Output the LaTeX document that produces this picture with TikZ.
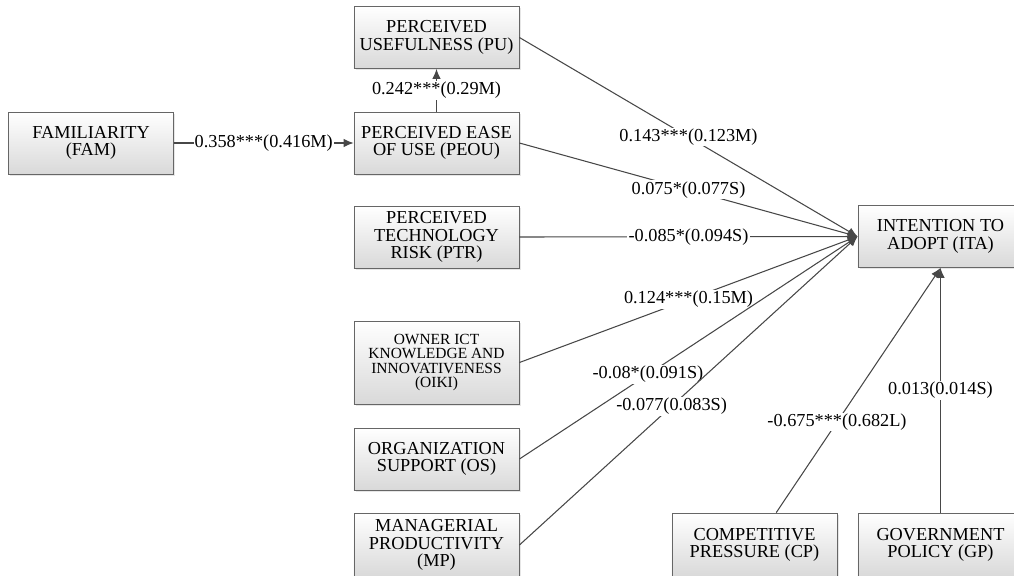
\documentclass[tikz,border=0pt]{standalone}
\usepackage{fontspec}
\setmainfont{Liberation Serif}
\usetikzlibrary{arrows.meta,positioning,shadows}

\begin{document}
\begin{tikzpicture}[x=0.025cm,y=-0.025cm,->,>={Latex[length=7pt,width=6pt]},
                    line width=0.75pt,draw=black!72]
  \tikzstyle{factor}=[draw=black!60, line width=0.6pt, top color=white, bottom color=black!15,
                      minimum width=4.125cm, minimum height=1.55cm, align=center,
                      inner sep=1pt, text=black, font=\fontsize{13}{12.4}\selectfont,
                      drop shadow={shadow xshift=1.2pt, shadow yshift=-1.2pt, opacity=0.2}]
  \tikzstyle{coef}=[fill=white, inner sep=0.8pt, text=black,
                    font=\fontsize{13}{13}\selectfont]

  \useasboundingbox (0,0) rectangle (1014,575);

  \node[factor]         (FAM)  at (91,143)    {FAMILIARITY\\(FAM)};
  \node[factor]         (PEOU) at (436.5,143)  {PERCEIVED EASE\\OF USE (PEOU)};
  \node[factor]         (PU)   at (436.5,37.5) {PERCEIVED\\USEFULNESS (PU)};
  \node[factor]         (PTR)  at (436.5,237)  {PERCEIVED\\TECHNOLOGY\\RISK (PTR)};
  \node[factor, minimum height=2.075cm, font=\fontsize{11}{10.2}\selectfont]
                        (OIKI) at (436.5,362.5) {OWNER ICT\\KNOWLEDGE AND\\INNOVATIVENESS\\(OIKI)};
  \node[factor]         (OS)   at (436.5,459)  {ORGANIZATION\\SUPPORT (OS)};
  \node[factor, minimum height=1.6cm]
                        (MP)   at (436.5,545)  {MANAGERIAL\\PRODUCTIVITY\\(MP)};
  \node[factor]         (ITA)  at (940.5,236.5) {INTENTION TO\\ADOPT (ITA)};
  \node[factor, minimum height=1.6cm]
                        (CP)   at (754.5,545)  {COMPETITIVE\\PRESSURE (CP)};
  \node[factor, minimum height=1.6cm]
                        (GP)   at (940.5,545)  {GOVERNMENT\\POLICY (GP)};

  \path (FAM)     edge node[coef]          {0.358***(0.416M)}   (PEOU)
        (PEOU)    edge node[coef]          {0.242***(0.29M)}    (PU)
        (PU.east) edge node[coef]          {0.143***(0.123M)}   (ITA.west)
        (PEOU.east) edge node[coef]        {0.075*(0.077S)}     (ITA.west)
        (PTR.east) edge node[coef]         {-0.085*(0.094S)}    (ITA.west)
        (OIKI.east) edge node[coef]        {0.124***(0.15M)}    (ITA.west)
        (OS.east) edge node[coef,pos=0.38] {-0.08*(0.091S)}     (ITA.west)
        (MP.east) edge node[coef,pos=0.45] {-0.077(0.083S)}     (ITA.west)
        (CP)      edge node[coef,pos=0.37] {-0.675***(0.682L)}  (ITA.south)
        (GP)      edge node[coef]          {0.013(0.014S)}      (ITA.south);
\end{tikzpicture}
\end{document}
